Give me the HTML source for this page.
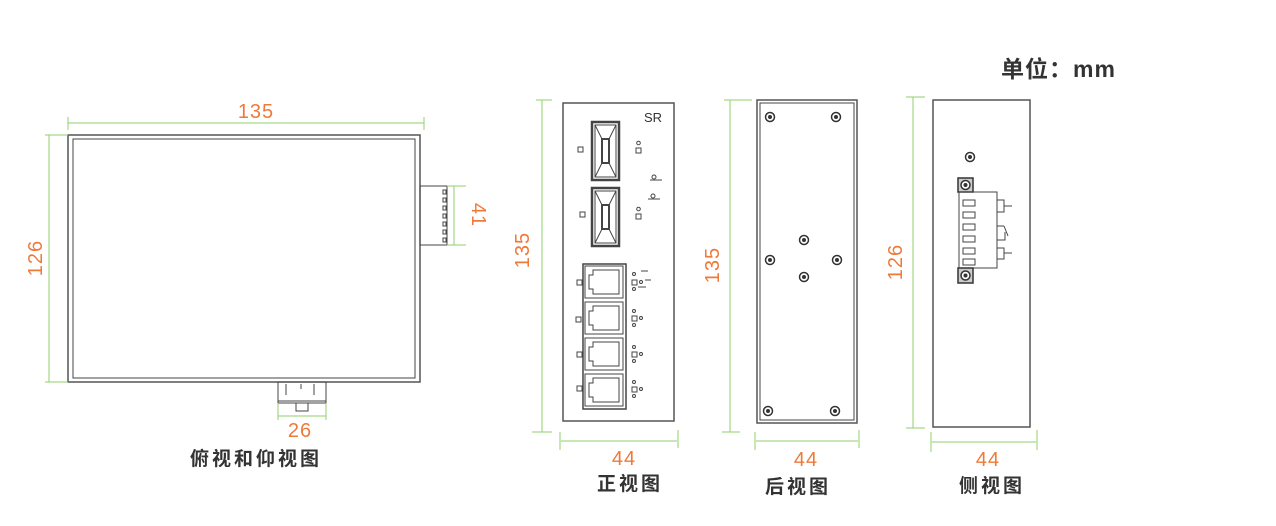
<!DOCTYPE html>
<html><head><meta charset="utf-8"><style>
html,body{margin:0;padding:0;background:#fff;width:1276px;height:526px;overflow:hidden}
svg{display:block}
.g{stroke:#8fd16a;stroke-width:1;fill:none}
.k{stroke:#444;fill:none;stroke-width:1}
.o{fill:#ee7a3a;font-family:"Liberation Sans",sans-serif;font-size:20px;letter-spacing:1px}
.c{fill:#333;font-family:"Liberation Sans","Noto Sans CJK SC",sans-serif;font-size:19px;font-weight:bold;letter-spacing:3px}
</style></head><body>
<svg width="1276" height="526" viewBox="0 0 1276 526">
<defs>
<g id="scr"><circle r="4.5" fill="#fff" stroke="#333" stroke-width="1.5"/><circle r="2" fill="#333"/></g>
<g id="rj">
<rect x="0" y="0" width="38" height="32" class="k"/>
<path d="M8 4 H34 V28 H8 V23 H4 V9 H8 Z" class="k"/>
</g>
<g id="sfp">
<rect x="0" y="0" width="27" height="58" fill="none" stroke="#444" stroke-width="2.5"/>
<rect x="3" y="3" width="21" height="52" class="k"/>
<path d="M3 3 L10 17 H17 L24 3 M3 55 L10 41 H17 L24 55" class="k"/>
<rect x="10" y="17" width="7" height="24" fill="none" stroke="#444" stroke-width="2"/>
</g>
</defs>

<!-- Top view -->
<rect x="68" y="135" width="352" height="247" fill="none" stroke="#555" stroke-width="1.5"/>
<rect x="73" y="139" width="342" height="239" class="k"/>
<rect x="420" y="186" width="27" height="59" class="k"/>
<g fill="#fff" stroke="#444" stroke-width="1">
<rect x="443" y="190" width="3" height="4"/><rect x="443" y="198" width="3" height="4"/><rect x="443" y="206" width="3" height="4"/><rect x="443" y="214" width="3" height="4"/><rect x="443" y="222" width="3" height="4"/><rect x="443" y="230" width="3" height="4"/><rect x="443" y="238" width="3" height="4"/>
</g>
<rect x="278" y="382" width="48" height="21" class="k"/>
<line x1="278" y1="401" x2="326" y2="401" stroke="#444"/>
<path d="M286 384 V395 M314 384 V395 M301 384 V389" class="k"/>
<rect x="296" y="403" width="12" height="8" class="k"/>
<line class="g" x1="68" y1="123" x2="424" y2="123"/><line class="g" x1="68" y1="117" x2="68" y2="130"/><line class="g" x1="424" y1="117" x2="424" y2="130"/>
<text class="o" x="256" y="118" text-anchor="middle">135</text>
<line class="g" x1="49" y1="135" x2="49" y2="382"/><line class="g" x1="45" y1="135" x2="68" y2="135"/><line class="g" x1="45" y1="382" x2="68" y2="382"/>
<text class="o" transform="translate(42,258) rotate(-90)" text-anchor="middle">126</text>
<line class="g" x1="454" y1="186" x2="454" y2="245"/><line class="g" x1="447" y1="186" x2="466" y2="186"/><line class="g" x1="447" y1="245" x2="466" y2="245"/>
<text class="o" transform="translate(472,215) rotate(90)" text-anchor="middle">41</text>
<line class="g" x1="278" y1="416" x2="326" y2="416"/><line class="g" x1="278" y1="403" x2="278" y2="420"/><line class="g" x1="326" y1="403" x2="326" y2="420"/>
<text class="o" x="300" y="437" text-anchor="middle">26</text>
<text class="c" x="256" y="465" text-anchor="middle">俯视和仰视图</text>

<!-- Front view -->
<rect x="563" y="103" width="111" height="318" fill="none" stroke="#555" stroke-width="1.5"/>
<text x="644" y="122" font-family="Liberation Sans,sans-serif" font-size="13" fill="#333">SR</text>
<use href="#sfp" x="592" y="122"/>
<use href="#sfp" x="592" y="188"/>
<g class="k">
<rect x="578" y="147" width="5" height="5"/><rect x="580" y="212" width="5" height="5"/>
<rect x="636" y="148" width="5" height="5"/><circle cx="638.5" cy="143" r="1.8"/>
<rect x="636" y="214" width="5" height="5"/><circle cx="638.5" cy="209" r="1.8"/>
<circle cx="654" cy="177" r="2"/><line x1="650" y1="180" x2="662" y2="180"/>
<circle cx="653" cy="196" r="2"/><line x1="648" y1="199" x2="660" y2="199"/>
</g>
<rect x="583" y="264" width="43" height="145" fill="none" stroke="#444" stroke-width="1.5"/>
<use href="#rj" x="585" y="266"/>
<use href="#rj" x="585" y="302"/>
<use href="#rj" x="585" y="338"/>
<use href="#rj" x="585" y="374"/>
<g class="k">
<rect x="577" y="280" width="5" height="5"/><rect x="576" y="317" width="5" height="5"/><rect x="577" y="352" width="5" height="5"/><rect x="577" y="386" width="5" height="5"/>
<rect x="632" y="280" width="5" height="5"/><circle cx="634" cy="274" r="1.5"/><circle cx="634" cy="289" r="1.5"/><circle cx="641" cy="282" r="1.5"/>
<line x1="641" y1="271" x2="648" y2="271"/><line x1="645" y1="280" x2="651" y2="280"/><line x1="638" y1="287" x2="646" y2="287"/>
<rect x="632" y="316" width="5" height="5"/><circle cx="634" cy="311" r="1.5"/><circle cx="634" cy="325" r="1.5"/><circle cx="641" cy="318" r="1.5"/>
<rect x="632" y="352" width="5" height="5"/><circle cx="634" cy="347" r="1.5"/><circle cx="634" cy="361" r="1.5"/><circle cx="641" cy="354" r="1.5"/>
<rect x="632" y="387" width="5" height="5"/><circle cx="634" cy="382" r="1.5"/><circle cx="634" cy="396" r="1.5"/><circle cx="641" cy="389" r="1.5"/>
</g>
<line class="g" x1="542" y1="100" x2="542" y2="432"/><line class="g" x1="536" y1="100" x2="552" y2="100"/><line class="g" x1="532" y1="432" x2="552" y2="432"/>
<text class="o" transform="translate(529,250) rotate(-90)" text-anchor="middle">135</text>
<line class="g" x1="561" y1="441" x2="677" y2="441"/><line class="g" x1="560" y1="432" x2="560" y2="450"/><line class="g" x1="678" y1="430" x2="678" y2="448"/>
<text class="o" x="624" y="465" text-anchor="middle">44</text>
<text class="c" x="630" y="490" text-anchor="middle">正视图</text>

<!-- Back view -->
<rect x="757" y="100" width="100" height="323" fill="none" stroke="#555" stroke-width="1.5"/>
<rect x="760" y="103" width="94" height="317" class="k"/>
<use href="#scr" x="770" y="117"/><use href="#scr" x="836" y="117"/>
<use href="#scr" x="804" y="240"/><use href="#scr" x="770" y="260"/><use href="#scr" x="837" y="260"/><use href="#scr" x="804" y="277"/>
<use href="#scr" x="768" y="411"/><use href="#scr" x="835" y="411"/>
<line class="g" x1="730" y1="100" x2="730" y2="432"/><line class="g" x1="724" y1="100" x2="752" y2="100"/><line class="g" x1="722" y1="432" x2="740" y2="432"/>
<text class="o" transform="translate(719,265) rotate(-90)" text-anchor="middle">135</text>
<line class="g" x1="756" y1="441" x2="858" y2="441"/><line class="g" x1="755" y1="432" x2="755" y2="450"/><line class="g" x1="859" y1="430" x2="859" y2="448"/>
<text class="o" x="806" y="466" text-anchor="middle">44</text>
<text class="c" x="798" y="493" text-anchor="middle">后视图</text>

<!-- Side view -->
<rect x="933" y="100" width="97" height="327" fill="none" stroke="#555" stroke-width="1.5"/>
<use href="#scr" x="970" y="157"/>
<rect x="958" y="178" width="15" height="14" fill="#ccc" stroke="#333" stroke-width="1.5"/><use href="#scr" x="965.5" y="185"/>
<rect x="959" y="192" width="38" height="76" class="k"/>
<g class="k">
<rect x="963" y="200" width="12" height="6"/><rect x="963" y="212" width="12" height="6"/><rect x="963" y="224" width="12" height="6"/><rect x="963" y="236" width="12" height="6"/><rect x="963" y="248" width="12" height="6"/><rect x="963" y="259" width="12" height="6"/>
<path d="M997 200 H1004 V212 H997 M1004 206 H1012"/>
<path d="M997 226 H1004 M1004 226 L1008 236 M997 240 H1005 V232"/>
<path d="M997 248 H1004 V259 H997 M1004 253 H1012"/>
</g>
<rect x="958" y="268" width="15" height="15" fill="#ccc" stroke="#333" stroke-width="1.5"/><use href="#scr" x="965.5" y="275.5"/>
<line class="g" x1="913" y1="97" x2="913" y2="428"/><line class="g" x1="906" y1="97" x2="925" y2="97"/><line class="g" x1="906" y1="428" x2="925" y2="428"/>
<text class="o" transform="translate(902,262) rotate(-90)" text-anchor="middle">126</text>
<line class="g" x1="932" y1="442" x2="1036" y2="442"/><line class="g" x1="931" y1="432" x2="931" y2="452"/><line class="g" x1="1037" y1="430" x2="1037" y2="450"/>
<text class="o" x="988" y="466" text-anchor="middle">44</text>
<text class="c" x="992" y="492" text-anchor="middle">侧视图</text>

<text x="1001" y="77" font-family="Liberation Sans,Noto Sans CJK SC,sans-serif" font-size="23" font-weight="bold" fill="#333" letter-spacing="1">单位：mm</text>
</svg>
</body></html>
